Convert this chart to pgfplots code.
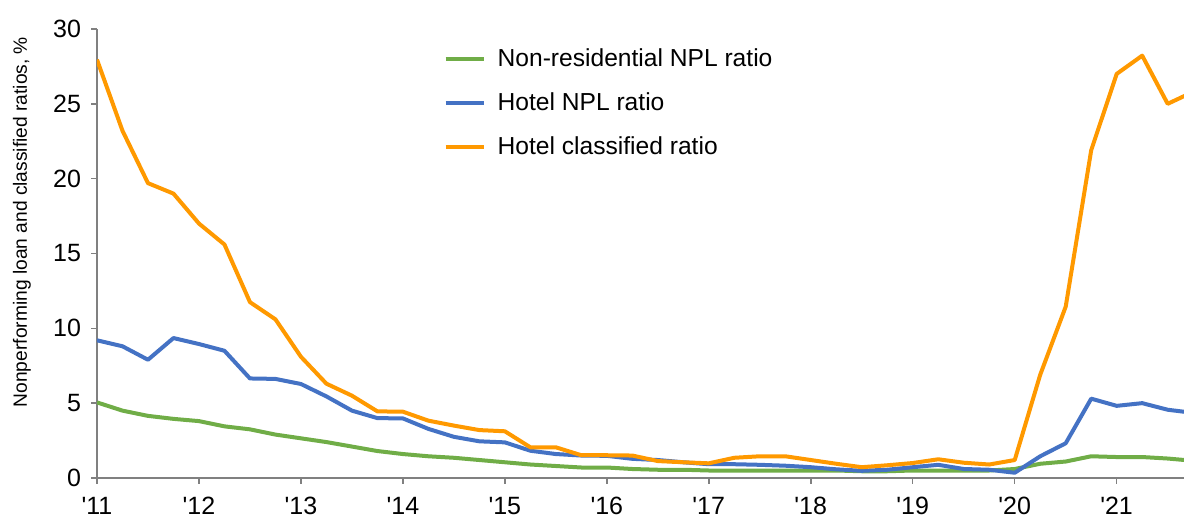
\documentclass[border=0pt]{standalone}
\usepackage{fontspec}
\setmainfont{Liberation Sans}[Ligatures=TeXOff]
\usepackage{pgfplots}
\pgfplotsset{compat=1.18}
\definecolor{cgreen}{HTML}{70AD47}
\definecolor{cblue}{HTML}{4472C4}
\definecolor{corange}{HTML}{FF9900}
\definecolor{axgray}{HTML}{808080}
\begin{document}
\begin{tikzpicture}
\begin{axis}[
  scale only axis, width=543.5pt, height=224.5pt,
  xmin=2011, xmax=2021.66, ymin=0, ymax=30,
  axis x line=bottom, axis y line=left,
  axis line style={axgray, line width=0.8pt, -},
  every tick/.style={axgray, line width=0.8pt},
  tick align=outside, major tick length=3pt,
  xtick={2011,...,2021},
  xticklabels={'11,'12,'13,'14,'15,'16,'17,'18,'19,'20,'21},
  ytick={0,5,...,30},
  tick label style={font=\fontsize{12.5}{14}\selectfont, black},
  /pgf/number format/assume math mode=true,
  xticklabel style={yshift=-3pt},
  yticklabel style={xshift=-1.5pt},
  ylabel={Nonperforming loan and classified ratios, \%},
  ylabel style={font=\fontsize{9.6}{11}\selectfont, at={(axis description cs:-0.069,0.57)}, anchor=center},
  legend style={draw=none, fill=none, at={(0.313,0.974)}, anchor=north west,
    font=\fontsize{12.3}{14}\selectfont, row sep=7.5pt,
    legend cell align=left},
  legend image code/.code={\draw[#1, line width=2pt] (0pt,0pt) -- (19pt,0pt); \path (23pt,0pt);},
  line join=round,
]
\addplot[cgreen, line width=2pt] coordinates {
(2011.00,5.05) (2011.25,4.5) (2011.50,4.15) (2011.75,3.95)
(2012.00,3.8) (2012.25,3.45) (2012.50,3.25) (2012.75,2.9)
(2013.00,2.65) (2013.25,2.4) (2013.50,2.1) (2013.75,1.8)
(2014.00,1.6) (2014.25,1.45) (2014.50,1.35) (2014.75,1.2)
(2015.00,1.05) (2015.25,0.9) (2015.50,0.8) (2015.75,0.7)
(2016.00,0.7) (2016.25,0.6) (2016.50,0.55) (2016.75,0.55)
(2017.00,0.5) (2017.25,0.5) (2017.50,0.5) (2017.75,0.5)
(2018.00,0.5) (2018.25,0.5) (2018.50,0.45) (2018.75,0.45)
(2019.00,0.5) (2019.25,0.5) (2019.50,0.5) (2019.75,0.5)
(2020.00,0.6) (2020.25,0.95) (2020.50,1.1) (2020.75,1.45)
(2021.00,1.4) (2021.25,1.4) (2021.50,1.3) (2021.75,1.15)
};
\addlegendentry{Non-residential NPL ratio}
\addplot[cblue, line width=2pt] coordinates {
(2011.00,9.2) (2011.25,8.8) (2011.50,7.9) (2011.75,9.35)
(2012.00,8.95) (2012.25,8.5) (2012.50,6.65) (2012.75,6.62)
(2013.00,6.28) (2013.25,5.45) (2013.50,4.5) (2013.75,4.0)
(2014.00,3.98) (2014.25,3.28) (2014.50,2.75) (2014.75,2.45)
(2015.00,2.38) (2015.25,1.82) (2015.50,1.6) (2015.75,1.5)
(2016.00,1.48) (2016.25,1.28) (2016.50,1.2) (2016.75,1.05)
(2017.00,0.92) (2017.25,0.92) (2017.50,0.88) (2017.75,0.82)
(2018.00,0.72) (2018.25,0.58) (2018.50,0.48) (2018.75,0.55)
(2019.00,0.72) (2019.25,0.88) (2019.50,0.6) (2019.75,0.55)
(2020.00,0.35) (2020.25,1.45) (2020.50,2.32) (2020.75,5.3)
(2021.00,4.82) (2021.25,5.0) (2021.50,4.56) (2021.75,4.35)
};
\addlegendentry{Hotel NPL ratio}
\addplot[corange, line width=2pt] coordinates {
(2011.00,27.95) (2011.25,23.2) (2011.50,19.7) (2011.75,19.0)
(2012.00,17.0) (2012.25,15.6) (2012.50,11.75) (2012.75,10.6)
(2013.00,8.1) (2013.25,6.3) (2013.50,5.5) (2013.75,4.45)
(2014.00,4.43) (2014.25,3.83) (2014.50,3.5) (2014.75,3.2)
(2015.00,3.12) (2015.25,2.05) (2015.50,2.05) (2015.75,1.52)
(2016.00,1.52) (2016.25,1.5) (2016.50,1.13) (2016.75,1.05)
(2017.00,0.98) (2017.25,1.35) (2017.50,1.45) (2017.75,1.45)
(2018.00,1.2) (2018.25,0.95) (2018.50,0.72) (2018.75,0.85)
(2019.00,1.0) (2019.25,1.25) (2019.50,1.02) (2019.75,0.9)
(2020.00,1.2) (2020.25,6.9) (2020.50,11.45) (2020.75,21.9)
(2021.00,27.0) (2021.25,28.22) (2021.50,25.0) (2021.75,25.8)
};
\addlegendentry{Hotel classified ratio}
\end{axis}
\pgfresetboundingbox
\path ([shift={(-48.5pt,-21.5pt)}]current axis.south west) rectangle ([shift={(0pt,14.5pt)}]current axis.north east);
\end{tikzpicture}
\end{document}
